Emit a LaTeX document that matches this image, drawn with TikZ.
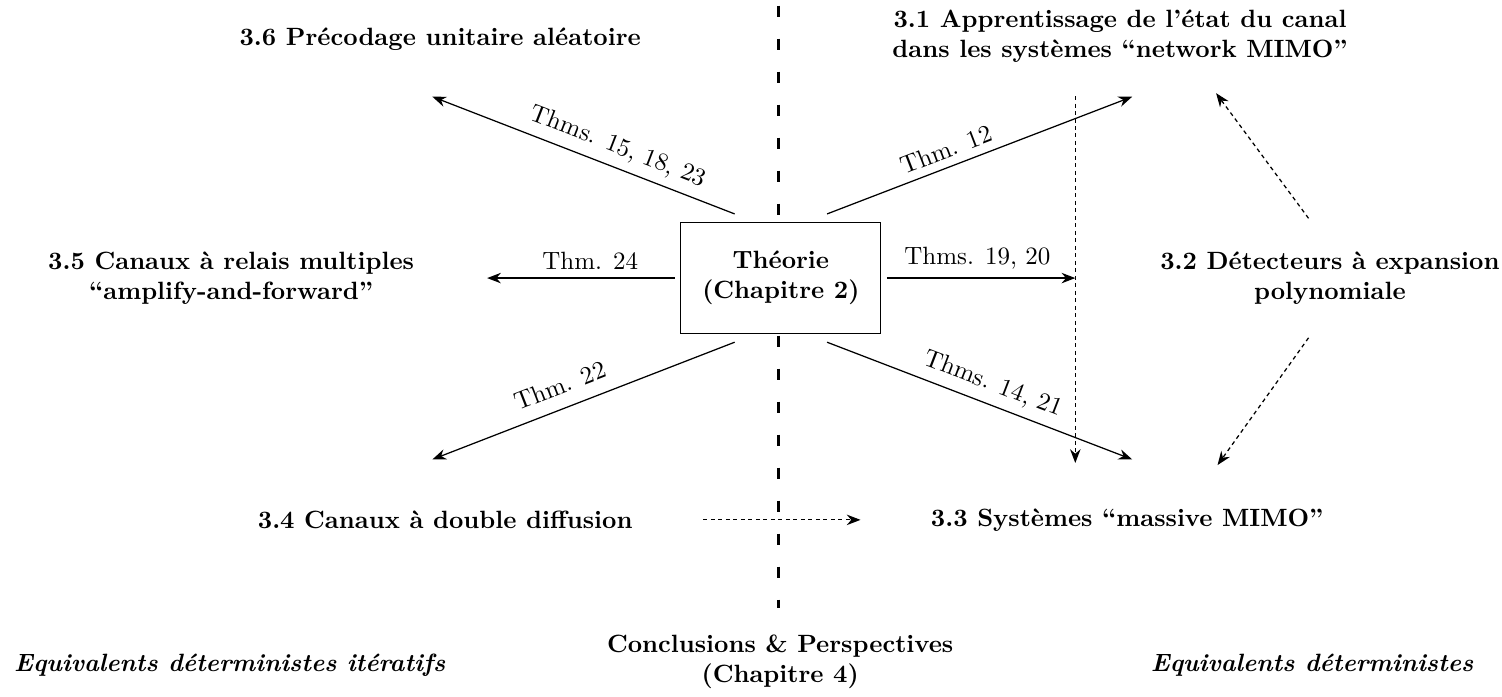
\documentclass[tikz,border=0pt]{standalone}
\usepackage{tikz}
\usetikzlibrary{
    arrows.meta,
    positioning,
    calc,
}

\begin{document}
\begin{tikzpicture}[
    titre/.style={font=\bfseries, align=center},
    equiv/.style={font=\bfseries\itshape},
    fleche/.style={-{Stealth[length=5.5pt,width=4.2pt]}, line width=0.5pt},
    tirets/.style={fleche, dash pattern=on 1.6pt off 1.4pt},
    ]
        \useasboundingbox (0,0) rectangle (21.12,-9.79);
        \draw[line width=1.2pt, dash pattern=on 4.4pt off 8.8pt] (10.94,-0.08) -- (10.94,-8.55);

        \node[draw, fill=white, titre, minimum width=2.81cm, minimum height=1.55cm] (theorie) at (10.98,-3.91) {Théorie\\(Chapitre 2)};

        \node[titre] (s36) at (6.19,-0.55) {3.6 Précodage unitaire aléatoire};
        \node[titre] (s31) at (15.75,-0.51) {3.1 Apprentissage de l’état du canal\\dans les systèmes “network MIMO”};
        \node[titre] (s35) at (3.25,-3.91) {3.5 Canaux à relais multiples\\“amplify-and-forward”};
        \node[titre] (s32) at (18.70,-3.91) {3.2 Détecteurs à expansion\\polynomiale};
        \node[titre] (s34) at (6.26,-7.31) {3.4 Canaux à double diffusion};
        \node[titre] (s33) at (15.85,-7.31) {3.3 Systèmes “massive MIMO”};
        \node[titre] (concl) at (10.97,-9.30) {Conclusions \& Perspectives\\(Chapitre 4)};
        \node[equiv] (eq1) at (3.23,-9.35) {Equivalents déterministes itératifs};
        \node[equiv] (eq2) at (18.45,-9.35) {Equivalents déterministes};

        \coordinate (t36) at (6.08,-1.36);
        \coordinate (t31) at (15.92,-1.36);
        \coordinate (t35) at (6.85,-3.91);
        \coordinate (t32) at (15.12,-3.91);
        \coordinate (t34) at (6.08,-6.46);
        \coordinate (t33) at (15.92,-6.46);
        \coordinate (dhaut) at (15.12,-1.35);
        \coordinate (dbas) at (15.12,-6.51);

        \draw[fleche] ([xshift=-0.65cm,yshift=0.12cm]theorie.north) -- node[above, sloped, pos=0.41] {Thms. 15, 18, 23} (t36);
        \draw[fleche] ([xshift=0.65cm,yshift=0.12cm]theorie.north) -- node[above, sloped, pos=0.41] {Thm. 12} (t31);
        \draw[fleche] ([xshift=-0.08cm]theorie.west) -- node[above, pos=0.45] {Thm. 24} (t35);
        \draw[fleche] ([xshift=0.08cm]theorie.east) -- node[above, pos=0.48] {Thms. 19, 20} (t32);
        \draw[fleche] ([xshift=-0.65cm,yshift=-0.12cm]theorie.south) -- node[above=2pt, sloped, pos=0.55] {Thm. 22} (t34);
        \draw[fleche] ([xshift=0.65cm,yshift=-0.12cm]theorie.south) -- node[above, sloped, pos=0.52] {Thms. 14, 21} (t33);

        \draw[tirets] (dhaut) -- (dbas);
        \draw[tirets] ($(s32)+(-0.30,0.84)$) -- ($(s32)+(-1.60,2.60)$);
        \draw[tirets] ($(s32)+(-0.30,-0.84)$) -- ($(s32)+(-1.58,-2.63)$);
        \draw[tirets] ($(s34)+(3.63,0)$) -- ($(s33)+(-3.75,0)$);
    \end{tikzpicture}
\end{document}
